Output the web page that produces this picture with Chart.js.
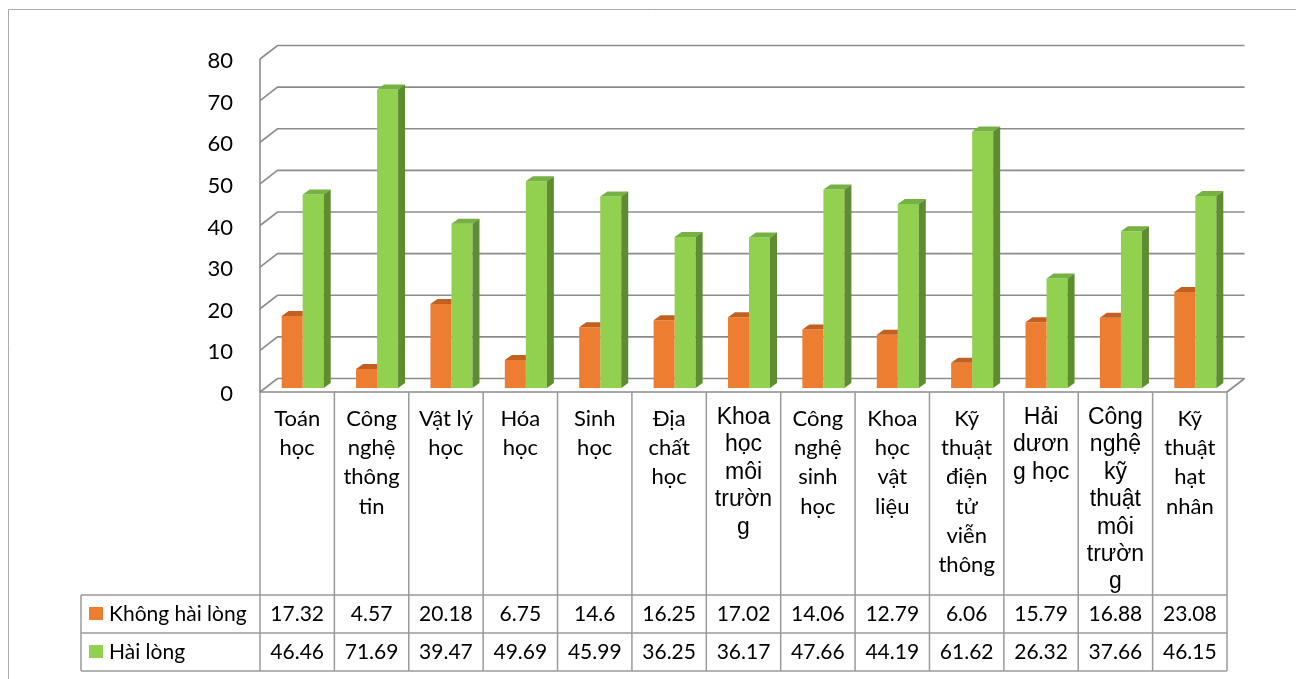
<!DOCTYPE html>
<html>
<head>
<meta charset="utf-8">
<script src="https://cdn.jsdelivr.net/npm/chart.js@4.4.1/dist/chart.umd.min.js"></script>
<style>
  html, body { margin: 0; padding: 0; background: #fff; }
  #wrap { width: 1296px; height: 679px; position: relative; }
</style>
</head>
<body>
<div id="wrap"><canvas id="chart"></canvas></div>
<script>
// category names, already broken into the lines used in the original table
const categories = [
  ["Toán", "học"],
  ["Công", "nghệ", "thông", "tin"],
  ["Vật lý", "học"],
  ["Hóa", "học"],
  ["Sinh", "học"],
  ["Địa", "chất", "học"],
  ["Khoa", "học", "môi", "trườn", "g"],
  ["Công", "nghệ", "sinh", "học"],
  ["Khoa", "học", "vật", "liệu"],
  ["Kỹ", "thuật", "điện", "tử", "viễn", "thông"],
  ["Hải", "dươn", "g học"],
  ["Công", "nghệ", "kỹ", "thuật", "môi", "trườn", "g"],
  ["Kỹ", "thuật", "hạt", "nhân"]
];
// these three were typed in an Arial-like font in the original
const arialLabels = [6, 10, 11];

const khongHaiLong = [17.32, 4.57, 20.18, 6.75, 14.6, 16.25, 17.02, 14.06, 12.79, 6.06, 15.79, 16.88, 23.08];
const haiLong = [46.46, 71.69, 39.47, 49.69, 45.99, 36.25, 36.17, 47.66, 44.19, 61.62, 26.32, 37.66, 46.15];
const seriesNames = ["Không hài lòng", "Hài lòng"];
const yTicks = [0, 10, 20, 30, 40, 50, 60, 70, 80];

const colors = {
  orange: { front: "#ED7D31", top: "#C2601F", side: "#B0561A" },
  green: { front: "#92D050", top: "#76B143", side: "#5E8D31" }
};
const faces = [colors.orange, colors.green];

const LINE = "#9a9a9a";
const DEPTH_X = 17.5, DEPTH_Y = 13.5;   // floor / wall depth
const BAR_DX = 7, BAR_DY = 5;           // bar thickness

function poly(ctx, pts, fill) {
  ctx.fillStyle = fill;
  ctx.beginPath();
  ctx.moveTo(pts[0][0], pts[0][1]);
  pts.slice(1).forEach(p => ctx.lineTo(p[0], p[1]));
  ctx.closePath();
  ctx.fill();
}

const threeD = {
  id: "threeD",
  beforeDatasetsDraw(chart) {
    const { ctx, chartArea: a, scales: { y } } = chart;
    ctx.save();
    ctx.strokeStyle = "#8c8c8c";
    ctx.lineWidth = 1.6;
    yTicks.forEach(v => {
      const py = y.getPixelForValue(v);
      ctx.beginPath();
      ctx.moveTo(a.left, py);
      ctx.lineTo(a.left + DEPTH_X, py - DEPTH_Y);
      ctx.lineTo(a.right + DEPTH_X, py - DEPTH_Y);
      ctx.stroke();
    });
    // right edge of the floor
    ctx.beginPath();
    ctx.moveTo(a.right + DEPTH_X, a.bottom - DEPTH_Y);
    ctx.lineTo(a.right, a.bottom);
    ctx.stroke();
    ctx.restore();

    // bars sit in the middle of the floor depth
    ctx.save();
    ctx.translate(5.5, -4);
  },
  afterDatasetsDraw(chart) {
    const { ctx } = chart;
    chart.getSortedVisibleDatasetMetas().forEach(meta => {
      const f = faces[meta.index];
      meta.data.forEach(bar => {
        const { x, y, base, width } = bar.getProps(["x", "y", "base", "width"], true);
        const l = x - width / 2, r = x + width / 2;
        if (meta.index === 0) {
          // right part of the orange top and its side hide behind the green bar
          poly(ctx, [[l, y], [l + BAR_DX, y - BAR_DY], [r, y - BAR_DY], [r, y]], f.top);
          return;
        }
        poly(ctx, [[l, y], [l + BAR_DX, y - BAR_DY], [r + BAR_DX, y - BAR_DY], [r, y]], f.top);
        poly(ctx, [[r, y], [r + BAR_DX, y - BAR_DY], [r + BAR_DX, base - BAR_DY], [r, base]], f.side);
      });
    });
    ctx.restore();
  },
  afterDraw(chart) {
    const { ctx, chartArea: a, scales: { x } } = chart;
    const n = categories.length;
    const catW = (a.right - a.left) / n;
    const tableLeft = 81, row1 = 595, row2 = 633, row3 = 671;

    ctx.save();
    // outer frame
    ctx.strokeStyle = "#ababab";
    ctx.lineWidth = 1;
    ctx.beginPath();
    ctx.moveTo(8.5, 679);
    ctx.lineTo(8.5, 9.5);
    ctx.lineTo(1296, 9.5);
    ctx.stroke();

    // front axis line and floor edge
    ctx.strokeStyle = "#8c8c8c";
    ctx.lineWidth = 1.6;
    ctx.beginPath();
    ctx.moveTo(a.left, a.top);
    ctx.lineTo(a.left, a.bottom);
    ctx.lineTo(a.right, a.bottom);
    ctx.stroke();

    // data table grid
    ctx.strokeStyle = LINE;
    ctx.lineWidth = 1.5;
    ctx.beginPath();
    for (let i = 0; i <= n; i++) {
      const px = a.left + i * catW;
      ctx.moveTo(px, a.bottom);
      ctx.lineTo(px, row3);
    }
    [row1, row2, row3].forEach(ry => {
      ctx.moveTo(tableLeft, ry);
      ctx.lineTo(a.right, ry);
    });
    ctx.moveTo(tableLeft, row1);
    ctx.lineTo(tableLeft, row3);
    ctx.stroke();

    // legend keys + values
    ctx.font = "21px Lato";
    ctx.textBaseline = "alphabetic";
    const rows = [[khongHaiLong, row1], [haiLong, row2]];
    rows.forEach(([vals, top], k) => {
      const base = top + 26;
      ctx.fillStyle = faces[k].front;
      ctx.fillRect(89, top + 12, 14, 13);
      ctx.fillStyle = "#000";
      ctx.textAlign = "left";
      ctx.fillText(seriesNames[k], 109, base);
      ctx.textAlign = "center";
      vals.forEach((v, i) => {
        ctx.fillText(String(v), x.getPixelForValue(i), base);
      });
    });
    ctx.restore();
  }
};

const ctx = document.getElementById("chart");
chart = new Chart(ctx, {
  type: "bar",
  data: {
    labels: categories,
    datasets: [
      {
        label: seriesNames[0],
        data: khongHaiLong,
        backgroundColor: colors.orange.front,
        borderWidth: 0
      },
      {
        label: seriesNames[1],
        data: haiLong,
        backgroundColor: colors.green.front,
        borderWidth: 0
      }
    ]
  },
  options: {
    responsive: true,
    maintainAspectRatio: false,
    animation: false,
    events: [],
    layout: { padding: { top: 59, right: 69, bottom: 0, left: 0 } },
    plugins: {
      legend: { display: false },
      tooltip: { enabled: false }
    },
    datasets: {
      bar: { barPercentage: 1, categoryPercentage: 0.565 }
    },
    scales: {
      x: {
        grid: { display: false, drawTicks: false },
        border: { display: false },
        ticks: {
          autoSkip: false,
          maxRotation: 0,
          minRotation: 0,
          padding: 12,
          color: "#000",
          font: c => arialLabels.includes(c.index)
            ? { family: "'Liberation Sans', Arial", size: 23, lineHeight: 1.19 }
            : { family: "Lato", size: 22, lineHeight: 1.33 }
        },
        afterFit: s => { s.height = 287; }
      },
      y: {
        min: 0,
        max: 80,
        grid: { display: false, drawTicks: false },
        border: { display: false },
        ticks: {
          stepSize: 10,
          padding: 27,
          labelOffset: 2,
          color: "#000",
          font: { family: "Lato", size: 22 }
        },
        afterFit: s => { s.width = 260; }
      }
    }
  },
  plugins: [threeD]
});
</script>
</body>
</html>
